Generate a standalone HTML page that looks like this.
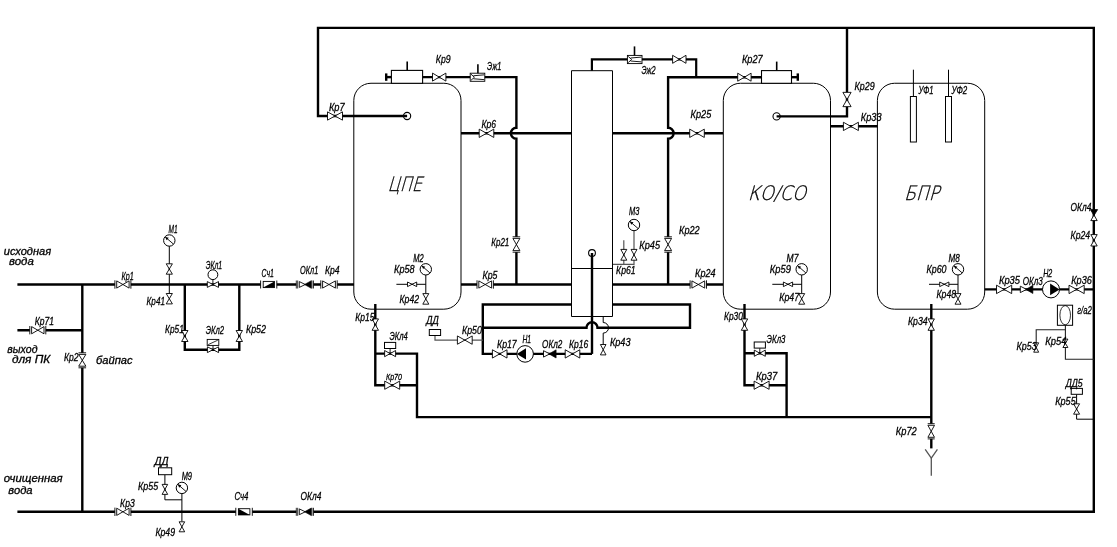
<!DOCTYPE html>
<html lang="ru"><head><meta charset="utf-8"><title>Схема</title>
<style>
html,body{margin:0;padding:0;background:#fff;}
svg{display:block;filter:grayscale(1);}
text{font-family:"Liberation Sans",sans-serif;font-style:italic;fill:#000;}
</style></head><body>
<svg width="1117" height="547" viewBox="0 0 1117 547">
<rect width="1117" height="547" fill="#fff"/>
<path d="M17.4 284.5 L354 284.5" fill="none" stroke="#000" stroke-width="2.4" />
<path d="M82.3 284.5 L82.3 511.8" fill="none" stroke="#000" stroke-width="2.4" />
<path d="M17.4 330.2 L82.3 330.2" fill="none" stroke="#000" stroke-width="2.4" />
<path d="M17.4 511.8 L1093.8 511.8 L1093.8 27.9 L318 27.9 L318 116 L407.1 116" fill="none" stroke="#000" stroke-width="2.4" />
<path d="M184.8 284.5 L184.8 349.7 L239.3 349.7 L239.3 284.5" fill="none" stroke="#000" stroke-width="2.4" />
<path d="M461 284.5 L571.5 284.5" fill="none" stroke="#000" stroke-width="2.4" />
<path d="M612.5 284.5 L723 284.5" fill="none" stroke="#000" stroke-width="2.4" />
<path d="M461 133.3 L571.5 133.3" fill="none" stroke="#000" stroke-width="2.4" />
<path d="M612.5 133.3 L723 133.3" fill="none" stroke="#000" stroke-width="2.4" />
<path d="M422.7 77.1 H516.4 V127.8 A5.5 5.5 0 0 0 516.4 138.8 V284.5" fill="none" stroke="#000" stroke-width="2.4"/>
<path d="M386.2 77.1 L391.2 77.1" fill="none" stroke="#000" stroke-width="2.4" />
<path d="M386.2 73.4 L386.2 80.8" fill="none" stroke="#000" stroke-width="2.4" />
<path d="M407.2 61.4 L407.2 70.5" fill="none" stroke="#000" stroke-width="1.6" />
<path d="M761.5 77.2 H668.1 V127.8 A5.5 5.5 0 0 1 668.1 138.8 V284.5" fill="none" stroke="#000" stroke-width="2.4"/>
<path d="M791.5 77.2 L797.8 77.2" fill="none" stroke="#000" stroke-width="2.4" />
<path d="M797.8 73.4 L797.8 80.8" fill="none" stroke="#000" stroke-width="2.4" />
<path d="M776.7 61.6 L776.7 70.7" fill="none" stroke="#000" stroke-width="1.6" />
<path d="M591.9 70.7 L591.9 59.3 L696.2 59.3 L696.2 77.2" fill="none" stroke="#000" stroke-width="2.2" />
<path d="M847 27.9 L847 116.4 L776.6 116.4" fill="none" stroke="#000" stroke-width="2.4" />
<path d="M830.4 126.3 L877.6 126.3" fill="none" stroke="#000" stroke-width="2.4" />
<path d="M592 253 L592 353.9" fill="none" stroke="#000" stroke-width="2.4" />
<path d="M571.5 304.5 H482.8 V353.9 H592" fill="none" stroke="#000" stroke-width="2.4"/>
<path d="M482.8 327.8 H586.5 A5.5 5.5 0 0 1 597.5 327.8 H690 V304.5 H612.5" fill="none" stroke="#000" stroke-width="2.4"/>
<path d="M375.3 304 L375.3 385.2 L417 385.2" fill="none" stroke="#000" stroke-width="2.4" />
<path d="M375.3 353.6 L417 353.6 L417 417.1 L931.3 417.1" fill="none" stroke="#000" stroke-width="2.4" />
<path d="M744.5 304 L744.5 385.2 L786.6 385.2" fill="none" stroke="#000" stroke-width="2.4" />
<path d="M744.5 353.2 L786.6 353.2 L786.6 417.1" fill="none" stroke="#000" stroke-width="2.4" />
<path d="M931.3 304 L931.3 448.4" fill="none" stroke="#000" stroke-width="2.4" />
<path d="M984.7 289.4 L1094 289.4" fill="none" stroke="#000" stroke-width="2.4" />
<path d="M169.3 246 L169.3 293.5" fill="none" stroke="#000" stroke-width="1" />
<path d="M425.8 275 L425.8 293.5" fill="none" stroke="#000" stroke-width="1" />
<path d="M396.4 284.3 L425.8 284.3" fill="none" stroke="#000" stroke-width="1" />
<path d="M801.7 275 L801.7 293.5" fill="none" stroke="#000" stroke-width="1" />
<path d="M772.3 284.3 L801.7 284.3" fill="none" stroke="#000" stroke-width="1" />
<path d="M958 275 L958 293.5" fill="none" stroke="#000" stroke-width="1" />
<path d="M929 284.3 L958 284.3" fill="none" stroke="#000" stroke-width="1" />
<path d="M634 231 L634 264.3 L612.5 264.3" fill="none" stroke="#555" stroke-width="1.2" />
<path d="M623.8 240.2 L623.8 264.3" fill="none" stroke="#555" stroke-width="1.2" />
<path d="M571.5 268.5 L612.5 268.5" fill="none" stroke="#000" stroke-width="1" />
<path d="M603.2 316.5 V322.5 A5.3 5.3 0 0 1 603.2 333.1 V344.5" fill="none" stroke="#000" stroke-width="1"/>
<path d="M435 335.5 L435 340.1 L482.8 340.1" fill="none" stroke="#555" stroke-width="1.2" />
<path d="M181.9 493.5 L181.9 521.5" fill="none" stroke="#000" stroke-width="1" />
<path d="M164.9 474.7 L164.9 499.8 L181.9 499.8" fill="none" stroke="#000" stroke-width="1" />
<path d="M913.4 69.7 L913.4 96.5" fill="none" stroke="#000" stroke-width="1" />
<path d="M948.5 69.7 L948.5 96.5" fill="none" stroke="#000" stroke-width="1" />
<path d="M1065.4 325.3 L1065.4 359.2 L1094 359.2" fill="none" stroke="#222" stroke-width="1.1" />
<path d="M1065.4 329.7 L1036.2 329.7 L1036.2 343" fill="none" stroke="#222" stroke-width="1.1" />
<path d="M1076.6 394.3 L1076.6 419.2 L1094 419.2" fill="none" stroke="#000" stroke-width="1" />
<path d="M925.2 449.3 L931.3 458 L937.4 449.3" fill="none" stroke="#555" stroke-width="1.3" />
<path d="M931.3 458 L931.3 475.7" fill="none" stroke="#555" stroke-width="1.3" />
<rect x="353.8" y="83.25" width="107.2" height="225.95" rx="17.2" ry="17.2" fill="none" stroke="#000" stroke-width="1"/>
<rect x="723.3" y="83.25" width="107.2" height="225.95" rx="17.2" ry="17.2" fill="none" stroke="#000" stroke-width="1"/>
<rect x="877.4" y="83.25" width="107.3" height="225.95" rx="17.2" ry="17.2" fill="none" stroke="#000" stroke-width="1"/>
<path d="M571.5 70.7 H612.5 V316.5 H571.5 Z" fill="none" stroke="#000" stroke-width="1"/>
<rect x="391.4" y="70.4" width="31.2" height="12.9" fill="#fff" stroke="#000" stroke-width="1.1"/>
<rect x="761.5" y="70.6" width="30" height="12.7" fill="#fff" stroke="#000" stroke-width="1.1"/>
<rect x="910.4" y="96.5" width="6" height="45.5" fill="#fff" stroke="#000" stroke-width="1"/>
<rect x="945.5" y="96.5" width="6" height="45.5" fill="#fff" stroke="#000" stroke-width="1"/>
<circle cx="407.1" cy="116" r="3.6" fill="none" stroke="#000" stroke-width="1.1"/>
<circle cx="776.6" cy="116.4" r="3.6" fill="none" stroke="#000" stroke-width="1.1"/>
<circle cx="592" cy="253" r="3.4" fill="none" stroke="#000" stroke-width="1.1"/>
<rect x="114.9" y="282.5" width="16" height="4" fill="#fff"/>
<path d="M116.7 280.9 L129.1 288.1 L129.1 280.9 L116.7 288.1 Z" fill="#fff" stroke="#000" stroke-width="0.9" stroke-linejoin="miter"/>
<path d="M114.9 280.3 V288.7" stroke="#000" stroke-width="0.9"/>
<path d="M130.9 280.3 V288.7" stroke="#000" stroke-width="0.9"/>
<rect x="29.8" y="328.2" width="16" height="4" fill="#fff"/>
<path d="M31.6 326.6 L44 333.8 L44 326.6 L31.6 333.8 Z" fill="#fff" stroke="#000" stroke-width="0.9" stroke-linejoin="miter"/>
<path d="M29.8 326 V334.4" stroke="#000" stroke-width="0.9"/>
<path d="M45.8 326 V334.4" stroke="#000" stroke-width="0.9"/>
<rect x="114.9" y="509.8" width="16" height="4" fill="#fff"/>
<path d="M116.7 508.2 L129.1 515.4 L129.1 508.2 L116.7 515.4 Z" fill="#fff" stroke="#000" stroke-width="0.9" stroke-linejoin="miter"/>
<path d="M114.9 507.6 V516" stroke="#000" stroke-width="0.9"/>
<path d="M130.9 507.6 V516" stroke="#000" stroke-width="0.9"/>
<rect x="320.8" y="282.5" width="16.4" height="4" fill="#fff"/>
<path d="M322.6 280.9 L335.4 288.1 L335.4 280.9 L322.6 288.1 Z" fill="#fff" stroke="#000" stroke-width="0.9" stroke-linejoin="miter"/>
<path d="M320.8 280.3 V288.7" stroke="#000" stroke-width="0.9"/>
<path d="M337.2 280.3 V288.7" stroke="#000" stroke-width="0.9"/>
<rect x="477" y="282.5" width="16.4" height="4" fill="#fff"/>
<path d="M478.8 280.9 L491.6 288.1 L491.6 280.9 L478.8 288.1 Z" fill="#fff" stroke="#000" stroke-width="0.9" stroke-linejoin="miter"/>
<path d="M477 280.3 V288.7" stroke="#000" stroke-width="0.9"/>
<path d="M493.4 280.3 V288.7" stroke="#000" stroke-width="0.9"/>
<rect x="690.1" y="282.5" width="16.4" height="4" fill="#fff"/>
<path d="M691.9 280.9 L704.7 288.1 L704.7 280.9 L691.9 288.1 Z" fill="#fff" stroke="#000" stroke-width="0.9" stroke-linejoin="miter"/>
<path d="M690.1 280.3 V288.7" stroke="#000" stroke-width="0.9"/>
<path d="M706.5 280.3 V288.7" stroke="#000" stroke-width="0.9"/>
<rect x="80.3" y="352.8" width="4" height="15" fill="#fff"/>
<path d="M78.7 354.4 L85.9 366.2 L78.7 366.2 L85.9 354.4 Z" fill="#fff" stroke="#000" stroke-width="0.9"/>
<path d="M78.5 352.8 H86.1" stroke="#000" stroke-width="0.9"/>
<path d="M78.5 367.8 H86.1" stroke="#000" stroke-width="0.9"/>
<rect x="666.1" y="236.8" width="4" height="15.4" fill="#fff"/>
<path d="M664.6 238.4 L671.6 250.6 L664.6 250.6 L671.6 238.4 Z" fill="#fff" stroke="#000" stroke-width="0.9"/>
<path d="M664.3 236.8 H671.9" stroke="#000" stroke-width="0.9"/>
<path d="M664.3 252.2 H671.9" stroke="#000" stroke-width="0.9"/>
<rect x="514.4" y="236.8" width="4" height="15.4" fill="#fff"/>
<path d="M512.9 238.4 L519.9 250.6 L512.9 250.6 L519.9 238.4 Z" fill="#fff" stroke="#000" stroke-width="0.9"/>
<path d="M512.6 236.8 H520.2" stroke="#000" stroke-width="0.9"/>
<path d="M512.6 252.2 H520.2" stroke="#000" stroke-width="0.9"/>
<rect x="296.3" y="282.5" width="17.2" height="4" fill="#fff"/>
<path d="M299.3 281.6 L305.3 284.5 L299.3 287.4 Z" fill="#fff" stroke="#000" stroke-width="0.9"/>
<path d="M311.3 280.7 L304.5 284.5 L311.3 288.3 Z" fill="#000" stroke="#000" stroke-width="0.6"/>
<path d="M297.7 280.5 V288.5" stroke="#000" stroke-width="0.8"/>
<path d="M296.3 280.5 V288.5" stroke="#000" stroke-width="0.8"/>
<path d="M312 280.5 V288.5" stroke="#000" stroke-width="0.8"/>
<path d="M313.5 280.5 V288.5" stroke="#000" stroke-width="0.8"/>
<rect x="296.3" y="509.8" width="17.2" height="4" fill="#fff"/>
<path d="M299.3 508.9 L305.3 511.8 L299.3 514.7 Z" fill="#fff" stroke="#000" stroke-width="0.9"/>
<path d="M311.3 508 L304.5 511.8 L311.3 515.6 Z" fill="#000" stroke="#000" stroke-width="0.6"/>
<path d="M297.7 507.8 V515.8" stroke="#000" stroke-width="0.8"/>
<path d="M296.3 507.8 V515.8" stroke="#000" stroke-width="0.8"/>
<path d="M312 507.8 V515.8" stroke="#000" stroke-width="0.8"/>
<path d="M313.5 507.8 V515.8" stroke="#000" stroke-width="0.8"/>
<rect x="260.6" y="282.5" width="16.2" height="4" fill="#fff"/>
<path d="M260.6 280.5 V288.5" stroke="#000" stroke-width="0.9"/>
<path d="M276.8 280.5 V288.5" stroke="#000" stroke-width="0.9"/>
<rect x="263.2" y="281.4" width="11.2" height="6.2" fill="#fff" stroke="#000" stroke-width="0.9"/>
<path d="M274.4 281.4 L274.4 287.6 L263.2 287.6 Z" fill="#000"/>
<rect x="235.8" y="509.8" width="16.5" height="4" fill="#fff"/>
<path d="M235.8 507.8 V515.8" stroke="#000" stroke-width="0.9"/>
<path d="M252.3 507.8 V515.8" stroke="#000" stroke-width="0.9"/>
<rect x="238.4" y="508.7" width="11.5" height="6.2" fill="#fff" stroke="#000" stroke-width="0.9"/>
<path d="M238.4 508.7 L249.9 514.9 L238.4 514.9 Z" fill="#000"/>
<path d="M166.2 263.8 L172.4 274.2 L166.2 274.2 L172.4 263.8 Z" fill="#fff" stroke="#000" stroke-width="0.9"/>
<path d="M166.2 293.5 L172.4 303.9 L166.2 303.9 L172.4 293.5 Z" fill="#fff" stroke="#000" stroke-width="0.9"/>
<circle cx="169.3" cy="240.5" r="5.7" fill="#fff" stroke="#000" stroke-width="1"/>
<path d="M173.404 244.034 L165.196 236.966" stroke="#000" stroke-width="0.9"/>
<path d="M165.196 236.966 L168.796 237.866 L166.596 240.266 Z" fill="#000"/>
<path d="M207.3 281.6 L218.5 287.4 L218.5 281.6 L207.3 287.4 Z" fill="#fff" stroke="#000" stroke-width="0.9" stroke-linejoin="miter"/>
<path d="M212.9 279 L212.9 284.5" fill="none" stroke="#000" stroke-width="0.9" />
<circle cx="212.9" cy="274.7" r="4.9" fill="#fff" stroke="#000" stroke-width="1"/>
<path d="M181.6 330.5 L188 341.5 L181.6 341.5 L188 330.5 Z" fill="#fff" stroke="#000" stroke-width="0.9"/>
<path d="M236.1 330.5 L242.5 341.5 L236.1 341.5 L242.5 330.5 Z" fill="#fff" stroke="#000" stroke-width="0.9"/>
<path d="M207.4 346.8 L218.6 352.6 L218.6 346.8 L207.4 352.6 Z" fill="#fff" stroke="#000" stroke-width="0.9" stroke-linejoin="miter"/>
<path d="M213 345.4 L213 349.7" fill="none" stroke="#000" stroke-width="0.9" />
<rect x="207.2" y="339.4" width="11.6" height="6" fill="#fff" stroke="#000" stroke-width="0.9"/>
<path d="M208.2 344.6 L217.8 340.2" fill="none" stroke="#000" stroke-width="0.8" />
<path d="M327.5 111.85 L342.5 120.15 L342.5 111.85 L327.5 120.15 Z" fill="#fff" stroke="#000" stroke-width="0.9" stroke-linejoin="miter"/>
<path d="M432.5 73.1 L445.9 81.1 L445.9 73.1 L432.5 81.1 Z" fill="#fff" stroke="#000" stroke-width="0.9" stroke-linejoin="miter"/>
<path d="M479.2 129.15 L493.8 137.45 L493.8 129.15 L479.2 137.45 Z" fill="#fff" stroke="#000" stroke-width="0.9" stroke-linejoin="miter"/>
<path d="M689.7 129.15 L704.3 137.45 L704.3 129.15 L689.7 137.45 Z" fill="#fff" stroke="#000" stroke-width="0.9" stroke-linejoin="miter"/>
<path d="M672.6 55.3 L686 63.3 L686 55.3 L672.6 63.3 Z" fill="#fff" stroke="#000" stroke-width="0.9" stroke-linejoin="miter"/>
<path d="M737.7 73.2 L751.1 81.2 L751.1 73.2 L737.7 81.2 Z" fill="#fff" stroke="#000" stroke-width="0.9" stroke-linejoin="miter"/>
<path d="M842.9 92.35 L851.1 106.65 L842.9 106.65 L851.1 92.35 Z" fill="#fff" stroke="#000" stroke-width="0.9"/>
<path d="M843.4 122.25 L858.4 130.55 L858.4 122.25 L843.4 130.55 Z" fill="#fff" stroke="#000" stroke-width="0.9" stroke-linejoin="miter"/>
<rect x="470.2" y="73.2" width="14.6" height="8.1" fill="#fff" stroke="#000" stroke-width="0.9"/>
<path d="M471 74.2 L474.4 77.25 L471 80.3 M473.4 75.75 L484.2 74.85 M473.4 78.75 L484.2 79.65" fill="none" stroke="#000" stroke-width="0.9"/>
<path d="M477.9 64.2 L477.9 73.2" fill="none" stroke="#000" stroke-width="1.6" />
<rect x="627.4" y="55.4" width="14.6" height="8.2" fill="#fff" stroke="#000" stroke-width="0.9"/>
<path d="M628.2 56.4 L631.6 59.5 L628.2 62.6 M630.6 58 L641.4 57.1 M630.6 61 L641.4 61.9" fill="none" stroke="#000" stroke-width="0.9"/>
<path d="M634.5 46.4 L634.5 55.4" fill="none" stroke="#000" stroke-width="1.6" />
<circle cx="425.8" cy="269.3" r="5.7" fill="#fff" stroke="#000" stroke-width="1"/>
<path d="M429.904 272.834 L421.696 265.766" stroke="#000" stroke-width="0.9"/>
<path d="M421.696 265.766 L425.296 266.666 L423.096 269.066 Z" fill="#000"/>
<path d="M407.5 282 L416.7 286.6 L416.7 282 L407.5 286.6 Z" fill="#fff" stroke="#000" stroke-width="0.9" stroke-linejoin="miter"/>
<path d="M422.8 293.6 L428.8 304.2 L422.8 304.2 L428.8 293.6 Z" fill="#fff" stroke="#000" stroke-width="0.9"/>
<circle cx="801.7" cy="269.3" r="5.7" fill="#fff" stroke="#000" stroke-width="1"/>
<path d="M805.804 272.834 L797.596 265.766" stroke="#000" stroke-width="0.9"/>
<path d="M797.596 265.766 L801.196 266.666 L798.996 269.066 Z" fill="#000"/>
<path d="M783.4 282 L792.6 286.6 L792.6 282 L783.4 286.6 Z" fill="#fff" stroke="#000" stroke-width="0.9" stroke-linejoin="miter"/>
<path d="M798.7 293.6 L804.7 304.2 L798.7 304.2 L804.7 293.6 Z" fill="#fff" stroke="#000" stroke-width="0.9"/>
<circle cx="958" cy="269.3" r="5.7" fill="#fff" stroke="#000" stroke-width="1"/>
<path d="M962.104 272.834 L953.896 265.766" stroke="#000" stroke-width="0.9"/>
<path d="M953.896 265.766 L957.496 266.666 L955.296 269.066 Z" fill="#000"/>
<path d="M939.7 282 L948.9 286.6 L948.9 282 L939.7 286.6 Z" fill="#fff" stroke="#000" stroke-width="0.9" stroke-linejoin="miter"/>
<path d="M955 293.6 L961 304.2 L955 304.2 L961 293.6 Z" fill="#fff" stroke="#000" stroke-width="0.9"/>
<circle cx="634" cy="225" r="5.7" fill="#fff" stroke="#000" stroke-width="1"/>
<path d="M638.104 228.534 L629.896 221.466" stroke="#000" stroke-width="0.9"/>
<path d="M629.896 221.466 L633.496 222.366 L631.296 224.766 Z" fill="#000"/>
<path d="M631 249.4 L637 260.2 L631 260.2 L637 249.4 Z" fill="#fff" stroke="#000" stroke-width="0.9"/>
<path d="M620.8 249.4 L626.8 260.2 L620.8 260.2 L626.8 249.4 Z" fill="#fff" stroke="#000" stroke-width="0.9"/>
<path d="M600.4 344.5 L606 354.9 L600.4 354.9 L606 344.5 Z" fill="#fff" stroke="#000" stroke-width="0.9"/>
<rect x="429.3" y="329.5" width="11.3" height="6" fill="#fff" stroke="#000" stroke-width="1"/>
<path d="M457.4 335.95 L472.2 344.25 L472.2 335.95 L457.4 344.25 Z" fill="#fff" stroke="#000" stroke-width="0.9" stroke-linejoin="miter"/>
<path d="M492.4 349.75 L507 358.05 L507 349.75 L492.4 358.05 Z" fill="#fff" stroke="#000" stroke-width="0.9" stroke-linejoin="miter"/>
<path d="M565.2 349.75 L579.8 358.05 L579.8 349.75 L565.2 358.05 Z" fill="#fff" stroke="#000" stroke-width="0.9" stroke-linejoin="miter"/>
<circle cx="525.1" cy="353.9" r="8.3" fill="#fff" stroke="#000" stroke-width="1"/>
<path d="M516.8 353.9 L526 348.256 V359.544 Z" fill="#000"/>
<path d="M543.5 350.7 L549.8 353.9 L543.5 357.1 Z" fill="#fff" stroke="#000" stroke-width="0.9"/>
<path d="M556.1 349.8 L549 353.9 L556.1 358 Z" fill="#000" stroke="#000" stroke-width="0.6"/>
<path d="M372.1 318.9 L378.5 330.3 L372.1 330.3 L378.5 318.9 Z" fill="#fff" stroke="#000" stroke-width="0.9"/>
<path d="M741.3 318.9 L747.7 330.3 L741.3 330.3 L747.7 318.9 Z" fill="#fff" stroke="#000" stroke-width="0.9"/>
<path d="M928 318.9 L934.4 330.3 L928 330.3 L934.4 318.9 Z" fill="#fff" stroke="#000" stroke-width="0.9"/>
<path d="M384.6 350.5 L395.6 356.7 L395.6 350.5 L384.6 356.7 Z" fill="#fff" stroke="#000" stroke-width="0.9" stroke-linejoin="miter"/>
<path d="M390.1 348.6 L390.1 353.6" fill="none" stroke="#000" stroke-width="0.9" />
<rect x="384.5" y="342.4" width="11.2" height="6.1" fill="#fff" stroke="#000" stroke-width="1"/>
<path d="M754.3 350.1 L765.3 356.3 L765.3 350.1 L754.3 356.3 Z" fill="#fff" stroke="#000" stroke-width="0.9" stroke-linejoin="miter"/>
<path d="M759.8 348.2 L759.8 353.2" fill="none" stroke="#000" stroke-width="0.9" />
<rect x="754.2" y="342" width="11.2" height="6.1" fill="#fff" stroke="#000" stroke-width="1"/>
<path d="M384.7 381.1 L399.7 389.3 L399.7 381.1 L384.7 389.3 Z" fill="#fff" stroke="#000" stroke-width="0.9" stroke-linejoin="miter"/>
<path d="M754.1 381.1 L769.1 389.3 L769.1 381.1 L754.1 389.3 Z" fill="#fff" stroke="#000" stroke-width="0.9" stroke-linejoin="miter"/>
<rect x="929.2" y="423.7" width="4" height="15.2" fill="#fff"/>
<path d="M927.9 425.3 L934.5 437.3 L927.9 437.3 L934.5 425.3 Z" fill="#fff" stroke="#000" stroke-width="0.9"/>
<path d="M927.7 423.7 H934.7" stroke="#000" stroke-width="0.9"/>
<path d="M927.7 438.9 H934.7" stroke="#000" stroke-width="0.9"/>
<path d="M996.5 285.2 L1011.7 293.6 L1011.7 285.2 L996.5 293.6 Z" fill="#fff" stroke="#000" stroke-width="0.9" stroke-linejoin="miter"/>
<path d="M1020.3 286.2 L1026.6 289.4 L1020.3 292.6 Z" fill="#fff" stroke="#000" stroke-width="0.9"/>
<path d="M1032.9 285.3 L1025.8 289.4 L1032.9 293.5 Z" fill="#000" stroke="#000" stroke-width="0.6"/>
<circle cx="1051" cy="289.4" r="8.5" fill="#fff" stroke="#000" stroke-width="1"/>
<path d="M1059.5 289.4 L1050.1 283.62 V295.18 Z" fill="#000"/>
<path d="M1069 285.2 L1084.2 293.6 L1084.2 285.2 L1069 293.6 Z" fill="#fff" stroke="#000" stroke-width="0.9" stroke-linejoin="miter"/>
<path d="M1090.4 209.6 H1097.6 L1094 215.4 Z" fill="#000" stroke="#000" stroke-width="0.8"/>
<path d="M1094 215 L1097.2 220.6 H1090.8 Z" fill="#fff" stroke="#000" stroke-width="0.9"/>
<path d="M1090.8 234.6 L1097.2 246 L1090.8 246 L1097.2 234.6 Z" fill="#fff" stroke="#000" stroke-width="0.9"/>
<rect x="1057.4" y="305.2" width="15.2" height="20.1" fill="#fff" stroke="#000" stroke-width="1"/>
<ellipse cx="1065.2" cy="315.2" rx="5.3" ry="9.6" fill="none" stroke="#000" stroke-width="0.8"/>
<path d="M1062.9 339.1 L1067.9 347.5 L1062.9 347.5 L1067.9 339.1 Z" fill="#fff" stroke="#000" stroke-width="0.9"/>
<path d="M1033.7 342.8 L1038.7 352.2 L1033.7 352.2 L1038.7 342.8 Z" fill="#fff" stroke="#000" stroke-width="0.9"/>
<rect x="1071.2" y="388.4" width="11.2" height="5.9" fill="#fff" stroke="#000" stroke-width="1"/>
<path d="M1073.6 403.8 L1079.6 414.2 L1073.6 414.2 L1079.6 403.8 Z" fill="#fff" stroke="#000" stroke-width="0.9"/>
<rect x="158.5" y="467.8" width="13.2" height="6.9" fill="#fff" stroke="#000" stroke-width="1"/>
<path d="M162.1 484.4 L167.7 494.4 L162.1 494.4 L167.7 484.4 Z" fill="#fff" stroke="#000" stroke-width="0.9"/>
<circle cx="181.9" cy="487.9" r="5.7" fill="#fff" stroke="#000" stroke-width="1"/>
<path d="M186.004 491.434 L177.796 484.366" stroke="#000" stroke-width="0.9"/>
<path d="M177.796 484.366 L181.396 485.266 L179.196 487.666 Z" fill="#000"/>
<path d="M179.1 521.8 L184.7 531.8 L179.1 531.8 L184.7 521.8 Z" fill="#fff" stroke="#000" stroke-width="0.9"/>
<text x="3.8" y="254.5" font-size="11.2042" textLength="47.4" lengthAdjust="spacingAndGlyphs" stroke="#000" stroke-width="0.3">исходная</text>
<text x="9" y="265.1" font-size="11.2042" textLength="24.8" lengthAdjust="spacingAndGlyphs" stroke="#000" stroke-width="0.3">вода</text>
<text x="7.3" y="352.6" font-size="11.2042" textLength="30.2" lengthAdjust="spacingAndGlyphs" stroke="#000" stroke-width="0.3">выход</text>
<text x="11.9" y="363.3" font-size="11.2042" textLength="38.4" lengthAdjust="spacingAndGlyphs" stroke="#000" stroke-width="0.3">для  ПК</text>
<text x="96" y="364.2" font-size="11.2042" textLength="36.5" lengthAdjust="spacingAndGlyphs" stroke="#000" stroke-width="0.3">байпас</text>
<text x="3.8" y="482" font-size="11.2042" textLength="58.9" lengthAdjust="spacingAndGlyphs" stroke="#000" stroke-width="0.3">очищенная</text>
<text x="8.3" y="494.1" font-size="11.2042" textLength="24.3" lengthAdjust="spacingAndGlyphs" stroke="#000" stroke-width="0.3">вода</text>
<text x="168.6" y="233" font-size="11.2014" textLength="9.1" lengthAdjust="spacingAndGlyphs" stroke="#000" stroke-width="0.3">М1</text>
<text x="121.6" y="279.5" font-size="11.2014" textLength="12.2" lengthAdjust="spacingAndGlyphs" stroke="#000" stroke-width="0.3">Кр1</text>
<text x="146.6" y="305.1" font-size="11.2014" textLength="18.3" lengthAdjust="spacingAndGlyphs" stroke="#000" stroke-width="0.3">Кр41</text>
<text x="205.7" y="268.5" font-size="11.2014" textLength="16.4" lengthAdjust="spacingAndGlyphs" stroke="#000" stroke-width="0.3">ЭКл1</text>
<text x="165.1" y="333.1" font-size="11.2014" textLength="18.7" lengthAdjust="spacingAndGlyphs" stroke="#000" stroke-width="0.3">Кр51</text>
<text x="205.7" y="334.4" font-size="11.2014" textLength="18.3" lengthAdjust="spacingAndGlyphs" stroke="#000" stroke-width="0.3">ЭКл2</text>
<text x="245.9" y="332.6" font-size="11.2014" textLength="20.1" lengthAdjust="spacingAndGlyphs" stroke="#000" stroke-width="0.3">Кр52</text>
<text x="261.6" y="276.8" font-size="11.2014" textLength="12.2" lengthAdjust="spacingAndGlyphs" stroke="#000" stroke-width="0.3">Сч1</text>
<text x="300" y="274.1" font-size="11.2014" textLength="18.2" lengthAdjust="spacingAndGlyphs" stroke="#000" stroke-width="0.3">ОКл1</text>
<text x="325" y="273.5" font-size="11.2014" textLength="14.6" lengthAdjust="spacingAndGlyphs" stroke="#000" stroke-width="0.3">Кр4</text>
<text x="355.2" y="320.5" font-size="11.2014" textLength="19.2" lengthAdjust="spacingAndGlyphs" stroke="#000" stroke-width="0.3">Кр15</text>
<text x="34.7" y="325.3" font-size="11.2014" textLength="19.2" lengthAdjust="spacingAndGlyphs" stroke="#000" stroke-width="0.3">Кр71</text>
<text x="64" y="360.6" font-size="11.2014" textLength="14.6" lengthAdjust="spacingAndGlyphs" stroke="#000" stroke-width="0.3">Кр2</text>
<text x="154.5" y="464.6" font-size="11.2014" textLength="14.1" lengthAdjust="spacingAndGlyphs" stroke="#000" stroke-width="0.3">ДД</text>
<text x="138" y="490" font-size="11.2014" textLength="20.1" lengthAdjust="spacingAndGlyphs" stroke="#000" stroke-width="0.3">Кр55</text>
<text x="181.7" y="479.9" font-size="11.2014" textLength="10.3" lengthAdjust="spacingAndGlyphs" stroke="#000" stroke-width="0.3">М9</text>
<text x="120.1" y="506.8" font-size="11.2014" textLength="14.6" lengthAdjust="spacingAndGlyphs" stroke="#000" stroke-width="0.3">Кр3</text>
<text x="155.4" y="535.6" font-size="11.2014" textLength="19.6" lengthAdjust="spacingAndGlyphs" stroke="#000" stroke-width="0.3">Кр49</text>
<text x="234.4" y="500" font-size="11.2014" textLength="14" lengthAdjust="spacingAndGlyphs" stroke="#000" stroke-width="0.3">Сч4</text>
<text x="300.6" y="499.6" font-size="11.2014" textLength="20.8" lengthAdjust="spacingAndGlyphs" stroke="#000" stroke-width="0.3">ОКл4</text>
<text x="328.9" y="110.9" font-size="11.2014" textLength="15.8" lengthAdjust="spacingAndGlyphs" stroke="#000" stroke-width="0.3">Кр7</text>
<text x="435.8" y="62.5" font-size="11.2014" textLength="14.8" lengthAdjust="spacingAndGlyphs" stroke="#000" stroke-width="0.3">Кр9</text>
<text x="487" y="69.5" font-size="11.2014" textLength="14.3" lengthAdjust="spacingAndGlyphs" stroke="#000" stroke-width="0.3">Эж1</text>
<text x="481.5" y="128.4" font-size="11.2014" textLength="14.6" lengthAdjust="spacingAndGlyphs" stroke="#000" stroke-width="0.3">Кр6</text>
<text x="491.3" y="245.9" font-size="11.2014" textLength="18" lengthAdjust="spacingAndGlyphs" stroke="#000" stroke-width="0.3">Кр21</text>
<text x="413.3" y="262" font-size="11.2014" textLength="10.4" lengthAdjust="spacingAndGlyphs" stroke="#000" stroke-width="0.3">М2</text>
<text x="394.1" y="273.1" font-size="11.2014" textLength="20.5" lengthAdjust="spacingAndGlyphs" stroke="#000" stroke-width="0.3">Кр58</text>
<text x="399.5" y="302.6" font-size="11.2014" textLength="19.5" lengthAdjust="spacingAndGlyphs" stroke="#000" stroke-width="0.3">Кр42</text>
<text x="482.5" y="278.7" font-size="11.2014" textLength="15" lengthAdjust="spacingAndGlyphs" stroke="#000" stroke-width="0.3">Кр5</text>
<text x="426.3" y="324.4" font-size="11.2014" textLength="12.5" lengthAdjust="spacingAndGlyphs" stroke="#000" stroke-width="0.3">ДД</text>
<text x="462" y="334.1" font-size="11.2014" textLength="19.8" lengthAdjust="spacingAndGlyphs" stroke="#000" stroke-width="0.3">Кр50</text>
<text x="497" y="347.9" font-size="11.2014" textLength="19.7" lengthAdjust="spacingAndGlyphs" stroke="#000" stroke-width="0.3">Кр17</text>
<text x="522.4" y="342.5" font-size="11.2014" textLength="8.6" lengthAdjust="spacingAndGlyphs" stroke="#000" stroke-width="0.3">Н1</text>
<text x="542.1" y="347.5" font-size="11.2014" textLength="20.2" lengthAdjust="spacingAndGlyphs" stroke="#000" stroke-width="0.3">ОКл2</text>
<text x="569" y="347.9" font-size="11.2014" textLength="19.3" lengthAdjust="spacingAndGlyphs" stroke="#000" stroke-width="0.3">Кр16</text>
<text x="609.9" y="345.7" font-size="11.2014" textLength="20.6" lengthAdjust="spacingAndGlyphs" stroke="#000" stroke-width="0.3">Кр43</text>
<text x="389.5" y="340.1" font-size="11.2014" textLength="18.3" lengthAdjust="spacingAndGlyphs" stroke="#000" stroke-width="0.3">ЭКл4</text>
<text x="386" y="380" font-size="9.6012" textLength="16" lengthAdjust="spacingAndGlyphs" stroke="#000" stroke-width="0.3">Кр70</text>
<text x="641.4" y="74.3" font-size="11.2014" textLength="14.3" lengthAdjust="spacingAndGlyphs" stroke="#000" stroke-width="0.3">Эж2</text>
<text x="690.6" y="118" font-size="11.2014" textLength="20.7" lengthAdjust="spacingAndGlyphs" stroke="#000" stroke-width="0.3">Кр25</text>
<text x="741.9" y="62.5" font-size="11.2014" textLength="20.8" lengthAdjust="spacingAndGlyphs" stroke="#000" stroke-width="0.3">Кр27</text>
<text x="854.6" y="90" font-size="11.2014" textLength="20" lengthAdjust="spacingAndGlyphs" stroke="#000" stroke-width="0.3">Кр29</text>
<text x="860.8" y="121" font-size="11.2014" textLength="20.7" lengthAdjust="spacingAndGlyphs" stroke="#000" stroke-width="0.3">Кр33</text>
<text x="918.5" y="93.8" font-size="11.2014" textLength="15" lengthAdjust="spacingAndGlyphs" stroke="#000" stroke-width="0.3">УФ1</text>
<text x="951.5" y="93.8" font-size="11.2014" textLength="15.8" lengthAdjust="spacingAndGlyphs" stroke="#000" stroke-width="0.3">УФ2</text>
<text x="628.9" y="214.9" font-size="11.2014" textLength="10.4" lengthAdjust="spacingAndGlyphs" stroke="#000" stroke-width="0.3">М3</text>
<text x="639.3" y="249" font-size="11.2014" textLength="20.7" lengthAdjust="spacingAndGlyphs" stroke="#000" stroke-width="0.3">Кр45</text>
<text x="679" y="233.5" font-size="11.2014" textLength="20.6" lengthAdjust="spacingAndGlyphs" stroke="#000" stroke-width="0.3">Кр22</text>
<text x="616.1" y="273.7" font-size="11.2014" textLength="19.5" lengthAdjust="spacingAndGlyphs" stroke="#000" stroke-width="0.3">Кр61</text>
<text x="695.1" y="276.5" font-size="11.2014" textLength="20.4" lengthAdjust="spacingAndGlyphs" stroke="#000" stroke-width="0.3">Кр24</text>
<text x="786.6" y="261.9" font-size="11.2014" textLength="11.8" lengthAdjust="spacingAndGlyphs" stroke="#000" stroke-width="0.3">М7</text>
<text x="769.8" y="273.2" font-size="11.2014" textLength="21.1" lengthAdjust="spacingAndGlyphs" stroke="#000" stroke-width="0.3">Кр59</text>
<text x="779.3" y="301.1" font-size="11.2014" textLength="19.8" lengthAdjust="spacingAndGlyphs" stroke="#000" stroke-width="0.3">Кр47</text>
<text x="724" y="320.1" font-size="11.2014" textLength="18.8" lengthAdjust="spacingAndGlyphs" stroke="#000" stroke-width="0.3">Кр30</text>
<text x="766.6" y="342.9" font-size="11.2014" textLength="18.8" lengthAdjust="spacingAndGlyphs" stroke="#000" stroke-width="0.3">ЭКл3</text>
<text x="756" y="380.2" font-size="11.2014" textLength="21.3" lengthAdjust="spacingAndGlyphs" stroke="#000" stroke-width="0.3">Кр37</text>
<text x="895.8" y="435" font-size="11.2014" textLength="21" lengthAdjust="spacingAndGlyphs" stroke="#000" stroke-width="0.3">Кр72</text>
<text x="948.5" y="261.9" font-size="11.2014" textLength="11.3" lengthAdjust="spacingAndGlyphs" stroke="#000" stroke-width="0.3">М8</text>
<text x="926.5" y="273.2" font-size="11.2014" textLength="20" lengthAdjust="spacingAndGlyphs" stroke="#000" stroke-width="0.3">Кр60</text>
<text x="936.5" y="298.2" font-size="11.2014" textLength="19.5" lengthAdjust="spacingAndGlyphs" stroke="#000" stroke-width="0.3">Кр48</text>
<text x="907.9" y="325.3" font-size="11.2014" textLength="19.8" lengthAdjust="spacingAndGlyphs" stroke="#000" stroke-width="0.3">Кр34</text>
<text x="998.9" y="284.4" font-size="11.2014" textLength="21.1" lengthAdjust="spacingAndGlyphs" stroke="#000" stroke-width="0.3">Кр35</text>
<text x="1022.7" y="285.3" font-size="11.2014" textLength="20.1" lengthAdjust="spacingAndGlyphs" stroke="#000" stroke-width="0.3">ОКл3</text>
<text x="1043.2" y="277.4" font-size="11.2014" textLength="9.1" lengthAdjust="spacingAndGlyphs" stroke="#000" stroke-width="0.3">Н2</text>
<text x="1071.2" y="284" font-size="11.2014" textLength="20.6" lengthAdjust="spacingAndGlyphs" stroke="#000" stroke-width="0.3">Кр36</text>
<text x="1077.2" y="314" font-size="11.2014" textLength="14.6" lengthAdjust="spacingAndGlyphs" stroke="#000" stroke-width="0.3">г/а2</text>
<text x="1016.6" y="349.8" font-size="11.2014" textLength="20.2" lengthAdjust="spacingAndGlyphs" stroke="#000" stroke-width="0.3">Кр53</text>
<text x="1045.2" y="345.4" font-size="11.2014" textLength="21.2" lengthAdjust="spacingAndGlyphs" stroke="#000" stroke-width="0.3">Кр54</text>
<text x="1065.7" y="387.2" font-size="11.2014" textLength="17" lengthAdjust="spacingAndGlyphs" stroke="#000" stroke-width="0.3">ДД5</text>
<text x="1055.2" y="405" font-size="11.2014" textLength="20.5" lengthAdjust="spacingAndGlyphs" stroke="#000" stroke-width="0.3">Кр55</text>
<text x="1070.6" y="211.3" font-size="11.2014" textLength="20.8" lengthAdjust="spacingAndGlyphs" stroke="#000" stroke-width="0.3">ОКл4</text>
<text x="1070.6" y="239.1" font-size="11.2014" textLength="19.5" lengthAdjust="spacingAndGlyphs" stroke="#000" stroke-width="0.3">Кр24</text>
<text transform="translate(387.6 190.8) skewX(-16)" x="0" y="0" font-size="20" textLength="34" lengthAdjust="spacingAndGlyphs" style="font-family:'DejaVu Sans Light','DejaVu Sans','Liberation Sans',sans-serif;font-weight:200;font-style:normal" stroke="#000" stroke-width="0.3">ЦПЕ</text>
<text transform="translate(747.8 199.5) skewX(-16)" x="0" y="0" font-size="20" textLength="58" lengthAdjust="spacingAndGlyphs" style="font-family:'DejaVu Sans Light','DejaVu Sans','Liberation Sans',sans-serif;font-weight:200;font-style:normal" stroke="#000" stroke-width="0.3">КО/СО</text>
<text transform="translate(904 199.7) skewX(-16)" x="0" y="0" font-size="20" textLength="35" lengthAdjust="spacingAndGlyphs" style="font-family:'DejaVu Sans Light','DejaVu Sans','Liberation Sans',sans-serif;font-weight:200;font-style:normal" stroke="#000" stroke-width="0.3">БПР</text>
</svg>
</body></html>
